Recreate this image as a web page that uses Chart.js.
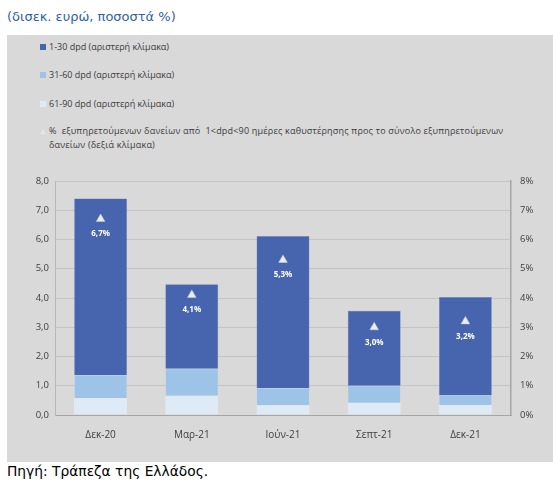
<!DOCTYPE html>
<html>
<head>
<meta charset="utf-8">
<script src="https://cdn.jsdelivr.net/npm/chart.js@4/dist/chart.umd.min.js"></script>
<style>
  body { margin: 0; width: 553px; height: 486px; background: #fff; position: relative; overflow: hidden; font-family: "DejaVu Sans", sans-serif; }
  #titlos { position: absolute; left: 7px; top: 9px; font-size: 13px; color: #2f5fa9; }
  #panel { position: absolute; left: 7px; top: 35px; width: 546px; height: 427px; background: #d9d9d9; }
  #legend { position: absolute; left: 0; top: 0; font-family: "Open Sans", sans-serif; font-size: 9px; color: #3a3a3a; }
  .item { position: absolute; left: 42px; white-space: nowrap; }
  .box { position: absolute; left: -9px; top: 4px; width: 6px; height: 6px; }
  .tri { position: absolute; left: -9px; top: 5px; width: 0; height: 0; border-left: 3px solid transparent; border-right: 3px solid transparent; border-bottom: 5px solid #e6e6e6; }
  #pigi { position: absolute; left: 7px; top: 463px; font-size: 13.8px; color: #000; }
  #wrap { position: absolute; left: 0; top: 160px; width: 553px; height: 290px; }
</style>
</head>
<body>
<div id="titlos">(δισεκ. ευρώ, ποσοστά %)</div>
<div id="panel">
  <div id="legend"></div>
</div>
<div id="wrap"><canvas id="grafima"></canvas></div>
<div id="pigi">Πηγή: Τράπεζα της Ελλάδος.</div>
<script>
// δεδομένα
const periodoi = ['Δεκ-20', 'Μαρ-21', 'Ιούν-21', 'Σεπτ-21', 'Δεκ-21'];
const dpd1_30 = [6.03, 2.89, 5.20, 2.56, 3.36];
const dpd31_60 = [0.79, 0.92, 0.59, 0.58, 0.33];
const dpd61_90 = [0.58, 0.66, 0.33, 0.42, 0.34];
const pososto = [6.7, 4.1, 5.3, 3.0, 3.2];

const onomata = [
    '1-30 dpd (αριστερή κλίμακα)',
    '31-60 dpd (αριστερή κλίμακα)',
    '61-90 dpd (αριστερή κλίμακα)',
    '%  εξυπηρετούμενων δανείων από  1<dpd<90 ημέρες καθυστέρησης προς το σύνολο εξυπηρετούμενων δανείων (δεξιά κλίμακα)'
];
const xromata = ['#4665ae', '#9dc3e6', '#deebf7', '#e6e6e6'];

// legend σε html
const legend = document.getElementById('legend');
const legendY = [5, 33, 62, 91];
onomata.forEach((onoma, i) => {
    const d = document.createElement('div');
    d.className = 'item';
    d.style.top = legendY[i] + 'px';
    const m = document.createElement('span');
    if (i == 3) {
        d.style.whiteSpace = 'pre-wrap';
        d.style.width = '472px';
        d.style.lineHeight = '14px';
        d.style.letterSpacing = '0.2px';
        d.style.top = (legendY[i] - 2) + 'px';
        m.className = 'tri';
    } else {
        m.className = 'box';
        m.style.background = xromata[i];
    }
    d.appendChild(m);
    d.appendChild(document.createTextNode(onoma));
    legend.appendChild(d);
});

const fmt = v => v.toFixed(1).replace('.', ',');

// ετικέτες κάτω από τα τρίγωνα
const etiketes = {
    id: 'etiketes',
    afterDatasetsDraw(chart) {
        const ctx = chart.ctx;
        const meta = chart.getDatasetMeta(3);
        ctx.save();
        ctx.font = 'bold 8px "Open Sans", sans-serif';
        ctx.fillStyle = '#ffffff';
        ctx.textAlign = 'center';
        ctx.textBaseline = 'middle';
        meta.data.forEach((p, i) => {
            ctx.fillText(fmt(pososto[i]) + '%', p.x, p.y + 15);
        });
        ctx.restore();
    }
};

const tickFont = { family: '"Open Sans", sans-serif', size: 9.5 };

new Chart(document.getElementById('grafima'), {
    type: 'bar',
    data: {
        labels: periodoi,
        datasets: [
            { label: onomata[2], data: dpd61_90, backgroundColor: xromata[2], borderColor: '#eef2f7', borderWidth: 0.5, yAxisID: 'y', order: 2 },
            { label: onomata[1], data: dpd31_60, backgroundColor: xromata[1], borderColor: '#c8daea', borderWidth: 0.5, yAxisID: 'y', order: 2 },
            { label: onomata[0], data: dpd1_30, backgroundColor: xromata[0], borderColor: '#6f86c0', borderWidth: 0.5, yAxisID: 'y', order: 2 },
            {
                type: 'line', label: onomata[3], data: pososto, yAxisID: 'y1', order: 1,
                showLine: false, pointStyle: 'triangle', pointRadius: 5,
                pointBackgroundColor: '#ececec', pointBorderColor: '#cfcfcf', pointBorderWidth: 0.5
            }
        ]
    },
    options: {
        responsive: true,
        maintainAspectRatio: false,
        animation: false,
        layout: { padding: { top: 21, left: 0, right: 0, bottom: 0 } },
        datasets: { bar: { categoryPercentage: 1, barPercentage: 0.58 } },
        plugins: { legend: { display: false }, tooltip: { enabled: false } },
        scales: {
            x: {
                stacked: true,
                grid: { display: false },
                border: { color: '#a6a6a6' },
                ticks: { color: '#404040', font: { family: '"Open Sans", sans-serif', size: 10 }, padding: 6 },
                afterFit: s => { s.height = 35; }
            },
            y: {
                stacked: true, min: 0, max: 8,
                ticks: { stepSize: 1, callback: v => fmt(v), color: '#404040', font: tickFont, padding: 6 },
                grid: { color: '#c4c4c4', drawTicks: false },
                border: { color: '#b8b8b8' },
                afterFit: s => { s.width = 55; }
            },
            y1: {
                position: 'right', min: 0, max: 8,
                ticks: { stepSize: 1, callback: v => v + '%', color: '#404040', font: tickFont, padding: 5 },
                grid: { display: false, drawOnChartArea: false, tickLength: 4, tickColor: '#a6a6a6' },
                border: { color: '#a6a6a6', width: 1.5 },
                afterFit: s => { s.width = 42; }
            }
        }
    },
    plugins: [etiketes]
});
</script>
</body>
</html>
